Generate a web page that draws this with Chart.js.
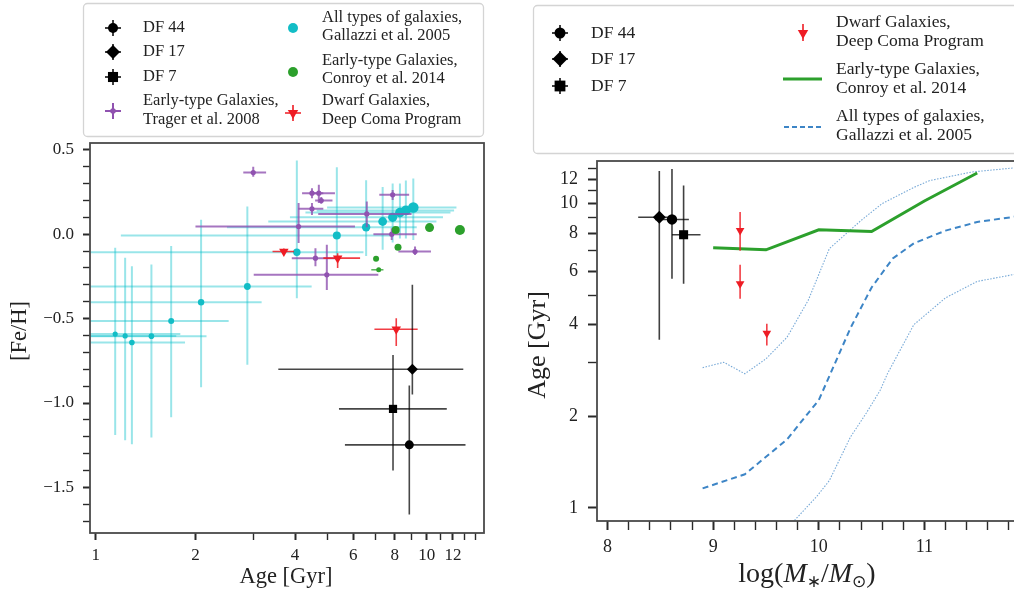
<!DOCTYPE html>
<html>
<head>
<meta charset="utf-8">
<script src="https://cdn.jsdelivr.net/npm/chart.js@4.4.1/dist/chart.umd.min.js"></script>
<style>
  html, body { margin: 0; padding: 0; background: #fff; width: 1014px; height: 591px; overflow: hidden; }
  #feh { position: absolute; left: 0; top: 0; }
  #mass { position: absolute; left: 520px; top: 0; }
</style>
</head>
<body>
<canvas id="feh" width="500" height="591"></canvas>
<canvas id="mass" width="540" height="591"></canvas>
<script>
const SERIF = '"Liberation Serif", "DejaVu Serif", serif';
const INK = '#222';

// ---- left panel: age vs [Fe/H]; rows are [age, ageLo, ageHi, feh, fehLo, fehHi]
const df44Feh = [[8.86, 5.66, 13.1, -1.248, -1.66, -0.897]];
const df17Feh = [[9.05, 3.56, 12.9, -0.80, -0.95, -0.30]];
const df7Feh  = [[7.91, 5.43, 11.5, -1.035, -1.40, -0.715]];
const dwarfFeh = [
  [8.09, 6.95, 9.39, -0.563, -0.662, -0.498],
  [3.70, 3.42, 3.97, -0.103, -0.12, -0.085],
  [5.38, 4.87, 6.29, -0.142, -0.20, -0.113]
];
const conroyFeh = [
  [12.6, 12.6, 12.6, 0.025, 0.025, 0.025],
  [10.2, 10.2, 10.2, 0.039, 0.039, 0.039],
  [8.06, 8.06, 8.06, 0.025, 0.025, 0.025],
  [8.19, 8.19, 8.19, -0.077, -0.077, -0.077],
  [7.03, 7.03, 7.03, -0.146, -0.146, -0.146],
  [7.16, 6.80, 7.40, -0.211, -0.211, -0.211]
];
const conroySize = [5, 4.5, 4, 3.5, 3, 2.5];
const tragerFeh = [
  [2.99, 2.79, 3.27, 0.365, 0.34, 0.40],
  [4.50, 4.20, 4.87, 0.243, 0.213, 0.272],
  [4.72, 4.50, 5.28, 0.243, 0.184, 0.292],
  [4.80, 4.60, 5.19, 0.199, 0.18, 0.22],
  [4.50, 4.09, 4.87, 0.15, 0.114, 0.184],
  [4.10, 2.00, 6.07, 0.045, -0.053, 0.184],
  [6.59, 4.70, 9.00, 0.12, 0.041, 0.193],
  [7.89, 7.19, 8.85, 0.233, 0.203, 0.262],
  [7.84, 6.90, 9.33, 0.0, -0.034, 0.035],
  [9.22, 8.21, 10.3, -0.103, -0.123, -0.073],
  [4.61, 3.91, 5.35, -0.142, -0.19, -0.083],
  [4.99, 3.00, 7.14, -0.241, -0.33, -0.063]
];
const gallazziFeh = [
  [1.144, 0.60, 1.80, -0.592, -1.19, -0.08],
  [1.226, 0.60, 1.75, -0.603, -1.22, -0.14],
  [1.285, 0.60, 1.86, -0.642, -1.244, -0.19],
  [1.472, 0.60, 2.16, -0.604, -1.205, -0.18],
  [1.689, 0.60, 2.52, -0.514, -1.084, -0.07],
  [2.08, 0.60, 3.17, -0.403, -0.906, 0.085],
  [2.87, 0.60, 4.49, -0.310, -0.774, 0.164],
  [4.05, 0.60, 6.44, -0.107, -0.379, 0.436],
  [5.35, 1.19, 7.75, -0.008, -0.15, 0.397],
  [6.56, 2.49, 9.33, 0.041, -0.13, 0.32],
  [7.36, 3.32, 10.7, 0.075, -0.093, 0.28],
  [7.89, 3.86, 11.2, 0.10, -0.05, 0.30],
  [8.30, 4.30, 11.8, 0.128, -0.026, 0.30],
  [8.65, 4.65, 12.1, 0.14, -0.026, 0.318],
  [9.11, 5.00, 12.3, 0.158, -0.034, 0.33]
];
const gallazziSize = [2.6, 2.6, 2.8, 2.8, 3, 3.2, 3.4, 3.7, 4, 4.2, 4.4, 4.6, 4.8, 5, 5.3];

const leftAgeTicks = [1, 2, 3, 4, 5, 6, 7, 8, 9, 10, 11, 12, 13, 14];
const leftAgeLabels = [1, 2, 4, 6, 8, 10, 12];
const fehTicks = [-1.7, -1.6, -1.5, -1.4, -1.3, -1.2, -1.1, -1.0, -0.9, -0.8, -0.7, -0.6,
  -0.5, -0.4, -0.3, -0.2, -0.1, 0.0, 0.1, 0.2, 0.3, 0.4, 0.5];
const fehLabels = [-1.5, -1.0, -0.5, 0.0, 0.5];

// ---- right panel: stellar mass vs age; rows are [logM, logMLo, logMHi, age, ageLo, ageHi]
const df44Mass = [[8.61, 8.45, 8.77, 8.87, 5.66, 13.0]];
const df17Mass = [[8.49, 8.29, 8.62, 9.02, 3.57, 12.8]];
const df7Mass  = [[8.72, 8.61, 8.88, 7.90, 5.45, 11.47]];
const dwarfMass = [
  [9.255, 9.255, 9.255, 8.16, 7.0, 9.38],
  [9.255, 9.255, 9.255, 5.45, 4.87, 6.3],
  [9.508, 9.508, 9.508, 3.75, 3.42, 4.03]
];
const conroyMass = [9.0, 9.5, 10.0, 10.5, 11.0, 11.5];
const conroyAge = [7.16, 7.05, 8.2, 8.1, 10.2, 12.6];
const gallazziMass = [8.9, 9.3, 9.7, 9.9, 10.0, 10.3, 10.5, 10.7, 10.9, 11.2, 11.5, 11.85, 12.0];
const gallazziAge = [1.16, 1.29, 1.68, 2.05, 2.26, 3.9, 5.3, 6.6, 7.4, 8.15, 8.7, 9.05, 9.15];
const gallazziHiMass = [8.9, 9.1, 9.3, 9.5, 9.7, 9.9, 10.1, 10.4, 10.6, 10.9, 11.05, 11.45, 11.85, 12.0];
const gallazziHiAge = [2.89, 3.01, 2.76, 3.09, 3.64, 4.81, 7.11, 8.8, 10.0, 11.3, 11.9, 12.7, 13.1, 13.1];
const gallazziLoMass = [9.77, 9.98, 10.1, 10.3, 10.45, 10.58, 10.65, 10.9, 11.2, 11.5, 11.85, 12.0];
const gallazziLoAge = [0.91, 1.09, 1.23, 1.71, 2.05, 2.43, 2.76, 4.0, 4.9, 5.55, 5.85, 5.9];

const massTicks = [8, 8.2, 8.4, 8.6, 8.8, 9, 9.2, 9.4, 9.6, 9.8, 10, 10.2, 10.4, 10.6, 10.8,
  11, 11.2, 11.4, 11.6, 11.8];
const massLabels = [8, 9, 10, 11];
const rightAgeTicks = [1, 2, 3, 4, 5, 6, 7, 8, 9, 10, 11, 12, 13];
const rightAgeLabels = [1, 2, 4, 6, 8, 10, 12];

const BLACK = '#000';
const RED = '#ee1c24';
const GREEN = '#2ca02c';
const CYAN = '#12bdc6';
const PURPLE = '#9052b0';
const BLUE = '#3d85c6';

const pts = rows => rows.map(r => ({ x: r[0], y: r[3] }));
const line = (xs, ys) => xs.map((x, i) => ({ x, y: ys[i] }));
const isLabel = (list, v) => list.some(l => Math.abs(l - v) < 1e-6);

// error bars are stroked right before each dataset's own markers
const errorBars = {
  id: 'errorBars',
  beforeDatasetDraw(chart, args) {
    const ds = chart.data.datasets[args.index];
    if (!ds.errors) return;
    const { ctx, chartArea: a, scales: { x, y } } = chart;
    ctx.save();
    ctx.beginPath();
    ctx.rect(a.left, a.top, a.right - a.left, a.bottom - a.top);
    ctx.clip();
    ctx.strokeStyle = ds.errColor;
    ctx.lineWidth = ds.errWidth;
    ds.errors.forEach(r => {
      const px = x.getPixelForValue(r[0]);
      const py = y.getPixelForValue(r[3]);
      ctx.beginPath();
      ctx.moveTo(x.getPixelForValue(r[1]), py);
      ctx.lineTo(x.getPixelForValue(r[2]), py);
      ctx.moveTo(px, y.getPixelForValue(r[4]));
      ctx.lineTo(px, y.getPixelForValue(r[5]));
      ctx.stroke();
    });
    ctx.restore();
  }
};

const frame = {
  id: 'frame',
  afterDatasetsDraw(chart) {
    const { ctx, chartArea: a } = chart;
    ctx.save();
    ctx.strokeStyle = '#4a4a4a';
    ctx.lineWidth = 1.8;
    ctx.strokeRect(a.left, a.top, a.right - a.left, a.bottom - a.top);
    ctx.restore();
  }
};

function mark(ctx, style, x, y, r, fill) {
  ctx.save();
  ctx.fillStyle = fill;
  ctx.beginPath();
  if (style === 'circle') ctx.arc(x, y, r, 0, Math.PI * 2);
  else if (style === 'diamond') {
    ctx.moveTo(x, y - r); ctx.lineTo(x + r, y); ctx.lineTo(x, y + r); ctx.lineTo(x - r, y); ctx.closePath();
  } else if (style === 'square') ctx.rect(x - r * 0.72, y - r * 0.72, r * 1.44, r * 1.44);
  else if (style === 'tri') {
    ctx.moveTo(x - r * 0.87, y - r * 0.5); ctx.lineTo(x + r * 0.87, y - r * 0.5); ctx.lineTo(x, y + r); ctx.closePath();
  }
  ctx.fill();
  ctx.restore();
}

function stroke(ctx, segs, color, width, dash) {
  ctx.save();
  ctx.strokeStyle = color;
  ctx.lineWidth = width;
  ctx.setLineDash(dash || []);
  ctx.beginPath();
  segs.forEach(s => { ctx.moveTo(s[0], s[1]); ctx.lineTo(s[2], s[3]); });
  ctx.stroke();
  ctx.restore();
}

function legendBox(ctx, x, y, w, h) {
  ctx.save();
  ctx.fillStyle = '#fff';
  ctx.strokeStyle = '#d4d4d4';
  ctx.lineWidth = 1.3;
  ctx.beginPath();
  ctx.roundRect(x, y, w, h, 4);
  ctx.fill();
  ctx.stroke();
  ctx.restore();
}

function legendText(ctx, lines, x, ys, size) {
  ctx.save();
  ctx.fillStyle = INK;
  ctx.font = size + 'px ' + SERIF;
  ctx.textBaseline = 'middle';
  ctx.textAlign = 'left';
  lines.forEach((t, i) => ctx.fillText(t, x, ys[i]));
  ctx.restore();
}

function plusBar(ctx, x, y, len, color, width) {
  stroke(ctx, [[x - len, y, x + len, y], [x, y - len, x, y + len]], color, width);
}

const leftLegend = {
  id: 'leftLegend',
  afterDraw(chart) {
    const ctx = chart.ctx;
    legendBox(ctx, 83.5, 3.5, 400, 133);
    const fs = 16.5;
    plusBar(ctx, 113, 28, 8, BLACK, 1.5); mark(ctx, 'circle', 113, 28, 5, BLACK);
    legendText(ctx, ['DF 44'], 143, [28], fs);
    plusBar(ctx, 113, 52, 8, BLACK, 1.5); mark(ctx, 'diamond', 113, 52, 7, BLACK);
    legendText(ctx, ['DF 17'], 143, [52], fs);
    plusBar(ctx, 113, 77, 8, BLACK, 1.5); mark(ctx, 'square', 113, 77, 7, BLACK);
    legendText(ctx, ['DF 7'], 143, [77], fs);
    plusBar(ctx, 113, 111, 8, PURPLE, 2); mark(ctx, 'circle', 113, 111, 2.8, PURPLE);
    legendText(ctx, ['Early-type Galaxies,', 'Trager et al. 2008'], 143, [101, 120], fs);

    mark(ctx, 'circle', 293, 28, 5, CYAN);
    legendText(ctx, ['All types of galaxies,', 'Gallazzi et al. 2005'], 322, [18, 36], fs);
    mark(ctx, 'circle', 293, 72, 5, GREEN);
    legendText(ctx, ['Early-type Galaxies,', 'Conroy et al. 2014'], 322, [61, 79], fs);
    plusBar(ctx, 293, 113, 8, RED, 1.6); mark(ctx, 'tri', 293, 113, 6, RED);
    legendText(ctx, ['Dwarf Galaxies,', 'Deep Coma Program'], 322, [101, 120], fs);

    // axis titles
    ctx.save();
    ctx.fillStyle = INK;
    ctx.textAlign = 'center';
    ctx.textBaseline = 'middle';
    ctx.font = '22.5px ' + SERIF;
    ctx.fillText('Age [Gyr]', 286, 577);
    ctx.translate(20, 331);
    ctx.rotate(-Math.PI / 2);
    ctx.fillText('[Fe/H]', 0, 0);
    ctx.restore();
  }
};

const rightLegend = {
  id: 'rightLegend',
  afterDraw(chart) {
    const ctx = chart.ctx;
    legendBox(ctx, 13.5, 5.5, 520, 148);
    const fs = 17.5;
    plusBar(ctx, 40, 33, 8, BLACK, 1.5); mark(ctx, 'circle', 40, 33, 5.5, BLACK);
    legendText(ctx, ['DF 44'], 71, [33], fs);
    plusBar(ctx, 40, 59, 8, BLACK, 1.5); mark(ctx, 'diamond', 40, 59, 7.5, BLACK);
    legendText(ctx, ['DF 17'], 71, [59], fs);
    plusBar(ctx, 40, 86, 8, BLACK, 1.5); mark(ctx, 'square', 40, 86, 7.5, BLACK);
    legendText(ctx, ['DF 7'], 71, [86], fs);

    stroke(ctx, [[283, 24, 283, 41]], RED, 1.6); mark(ctx, 'tri', 283, 33, 6, RED);
    legendText(ctx, ['Dwarf Galaxies,', 'Deep Coma Program'], 316, [22, 41], fs);
    stroke(ctx, [[263, 79, 302, 79]], GREEN, 3);
    legendText(ctx, ['Early-type Galaxies,', 'Conroy et al. 2014'], 316, [69, 88], fs);
    stroke(ctx, [[264, 127, 302, 127]], BLUE, 1.8, [5, 3]);
    legendText(ctx, ['All types of galaxies,', 'Gallazzi et al. 2005'], 316, [116, 135], fs);

    // axis titles
    ctx.save();
    ctx.fillStyle = INK;
    ctx.textBaseline = 'middle';
    ctx.textAlign = 'center';
    ctx.font = '26px ' + SERIF;
    ctx.translate(18, 345);
    ctx.rotate(-Math.PI / 2);
    ctx.fillText('Age [Gyr]', 0, 0);
    ctx.restore();

    const big = 28, small = 17;
    const parts = [
      ['log(', big + 'px ' + SERIF, 0],
      ['M', 'italic ' + big + 'px ' + SERIF, 0],
      ['\u2217', small + 'px "DejaVu Sans"', 5],
      ['/', big + 'px ' + SERIF, 0],
      ['M', 'italic ' + big + 'px ' + SERIF, 0],
      ['\u2299', small + 'px "DejaVu Sans"', 5],
      [')', big + 'px ' + SERIF, 0]
    ];
    ctx.save();
    ctx.fillStyle = INK;
    ctx.textBaseline = 'alphabetic';
    let total = 0;
    parts.forEach(p => { ctx.font = p[1]; total += ctx.measureText(p[0]).width; });
    let cx = 287 - total / 2;
    parts.forEach(p => {
      ctx.font = p[1];
      ctx.fillText(p[0], cx, 582 + p[2]);
      cx += ctx.measureText(p[0]).width;
    });
    ctx.restore();
  }
};

function tickAxis(opts) {
  return {
    type: opts.type,
    min: opts.min,
    max: opts.max,
    bounds: 'data',
    afterBuildTicks: s => { s.ticks = opts.ticks.map(v => ({ value: v, major: isLabel(opts.labels, v) })); },
    afterFit: s => { if (opts.width) s.width = opts.width; if (opts.height) s.height = opts.height; },
    border: { display: false },
    grid: {
      drawOnChartArea: false,
      drawTicks: true,
      tickLength: opts.tickLength,
      tickColor: '#2a2a2a',
      tickWidth: c => (c.tick && c.tick.major ? 2 : 1.4)
    },
    ticks: {
      autoSkip: false,
      maxRotation: 0,
      minRotation: 0,
      padding: opts.padding,
      color: INK,
      font: { family: SERIF, size: opts.fontSize },
      callback: v => (isLabel(opts.labels, v) ? opts.format(v) : '')
    }
  };
}

const scatterSet = (label, rows, style) => Object.assign({
  label,
  data: pts(rows),
  errors: rows,
  pointBorderWidth: 0,
  pointBorderColor: 'rgba(0,0,0,0)'
}, style);

new Chart(document.getElementById('feh'), {
  type: 'scatter',
  data: {
    datasets: [
      scatterSet('DF 44', df44Feh, { pointStyle: 'circle', pointRadius: 4.5, pointBackgroundColor: BLACK, errColor: 'rgba(0,0,0,0.72)', errWidth: 1.6 }),
      scatterSet('DF 17', df17Feh, { pointStyle: 'rectRot', pointRadius: 5.5, pointBackgroundColor: BLACK, errColor: 'rgba(0,0,0,0.72)', errWidth: 1.6 }),
      scatterSet('DF 7', df7Feh, { pointStyle: 'rect', pointRadius: 5.8, pointBackgroundColor: BLACK, errColor: 'rgba(0,0,0,0.72)', errWidth: 1.6 }),
      scatterSet('Dwarf Galaxies', dwarfFeh, { pointStyle: 'triangle', pointRotation: 180, pointRadius: 5.5, pointBackgroundColor: RED, errColor: 'rgba(238,28,36,0.85)', errWidth: 1.6 }),
      scatterSet('Conroy', conroyFeh, { pointStyle: 'circle', pointRadius: conroySize, pointBackgroundColor: GREEN, errColor: 'rgba(44,160,44,0.8)', errWidth: 1.5 }),
      scatterSet('Trager', tragerFeh, { pointStyle: 'circle', pointRadius: 2.6, pointBackgroundColor: PURPLE, errColor: 'rgba(144,82,176,0.8)', errWidth: 2 }),
      scatterSet('Gallazzi', gallazziFeh, { pointStyle: 'circle', pointRadius: gallazziSize, pointBackgroundColor: CYAN, errColor: 'rgba(0,190,200,0.4)', errWidth: 2 })
    ]
  },
  options: {
    responsive: false,
    animation: false,
    events: [],
    layout: { padding: { left: 0, top: 143, right: 16, bottom: 0 } },
    plugins: { legend: { display: false }, tooltip: { enabled: false } },
    scales: {
      x: tickAxis({ type: 'logarithmic', min: 0.96, max: 14.9, ticks: leftAgeTicks, labels: leftAgeLabels,
        height: 58, tickLength: 7, padding: 5, fontSize: 17, format: v => String(v) }),
      y: tickAxis({ type: 'linear', min: -1.77, max: 0.54, ticks: fehTicks, labels: fehLabels,
        width: 90, tickLength: 7, padding: 9, fontSize: 17, format: v => v.toFixed(1).replace('-', '\u2212') })
    }
  },
  plugins: [errorBars, frame, leftLegend]
});

new Chart(document.getElementById('mass'), {
  type: 'scatter',
  data: {
    datasets: [
      scatterSet('DF 44', df44Mass, { pointStyle: 'circle', pointRadius: 5.2, pointBackgroundColor: BLACK, errColor: 'rgba(0,0,0,0.75)', errWidth: 1.6 }),
      scatterSet('DF 17', df17Mass, { pointStyle: 'rectRot', pointRadius: 6.5, pointBackgroundColor: BLACK, errColor: 'rgba(0,0,0,0.75)', errWidth: 1.6 }),
      scatterSet('DF 7', df7Mass, { pointStyle: 'rect', pointRadius: 6.4, pointBackgroundColor: BLACK, errColor: 'rgba(0,0,0,0.75)', errWidth: 1.6 }),
      scatterSet('Dwarf Galaxies', dwarfMass, { pointStyle: 'triangle', pointRotation: 180, pointRadius: 5, pointBackgroundColor: RED, errColor: 'rgba(238,28,36,0.85)', errWidth: 1.6 }),
      { label: 'Conroy', data: line(conroyMass, conroyAge), showLine: true, pointRadius: 0, borderColor: GREEN, borderWidth: 3 },
      { label: 'Gallazzi', data: line(gallazziMass, gallazziAge), showLine: true, pointRadius: 0, borderColor: BLUE, borderWidth: 2, borderDash: [6, 4] },
      { label: 'Gallazzi upper', data: line(gallazziHiMass, gallazziHiAge), showLine: true, pointRadius: 0, borderColor: 'rgba(61,133,198,0.7)', borderWidth: 1.1, borderDash: [1.5, 1.5] },
      { label: 'Gallazzi lower', data: line(gallazziLoMass, gallazziLoAge), showLine: true, pointRadius: 0, borderColor: 'rgba(61,133,198,0.7)', borderWidth: 1.1, borderDash: [1.5, 1.5] }
    ]
  },
  options: {
    responsive: false,
    animation: false,
    events: [],
    layout: { padding: { left: 0, top: 161, right: 30, bottom: 0 } },
    plugins: { legend: { display: false }, tooltip: { enabled: false } },
    scales: {
      x: tickAxis({ type: 'linear', min: 7.9, max: 12.0, ticks: massTicks, labels: massLabels,
        height: 70, tickLength: 9, padding: 6, fontSize: 18, format: v => String(Math.round(v)) }),
      y: tickAxis({ type: 'logarithmic', min: 0.906, max: 13.8, ticks: rightAgeTicks, labels: rightAgeLabels,
        width: 77, tickLength: 9, padding: 10, fontSize: 18, format: v => String(v) })
    }
  },
  plugins: [errorBars, frame, rightLegend]
});
</script>
</body>
</html>
